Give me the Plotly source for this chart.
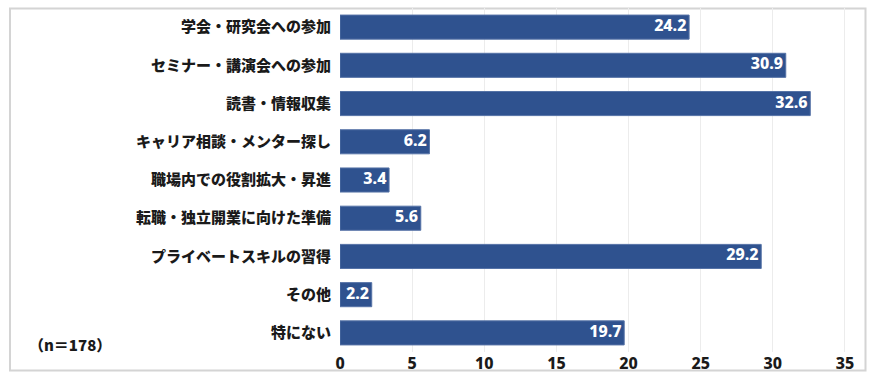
import plotly.graph_objects as go

categories = ["学会・研究会への参加", "セミナー・講演会への参加", "読書・情報収集",
              "キャリア相談・メンター探し", "職場内での役割拡大・昇進",
              "転職・独立開業に向けた準備", "プライベートスキルの習得", "その他", "特にない"]
values = [24.2, 30.9, 32.6, 6.2, 3.4, 5.6, 29.2, 2.2, 19.7]
tick_vals = [0, 5, 10, 15, 20, 25, 30, 35]
note = "（n＝178）"

W, H = 872, 373
ml, mr, mt, mb = 340, 17, 8, 21
pw, ph = W - ml - mr, H - mt - mb

def px_x(px):
    return (px - ml) / pw

def px_y(py):
    return (H - mb - py) / ph

fig = go.Figure()
fig.add_trace(go.Bar(
    y=categories, x=values, orientation="h",
    marker=dict(color="#2F528F", line=dict(width=1, color="#5572a6")),
    width=0.63, hoverinfo="skip",
))
fig.add_trace(go.Scatter(
    y=categories, x=values, mode="text",
    text=[f"{v:.1f}\u2009" for v in values], textposition="middle left",
    textfont=dict(color="white", size=16, family="Noto Sans", weight=800),
    cliponaxis=False, hoverinfo="skip",
))

fig.update_layout(
    width=W, height=H, margin=dict(l=ml, r=mr, t=mt, b=mb, autoexpand=False),
    paper_bgcolor="white", plot_bgcolor="white", showlegend=False,
    font=dict(family="Noto Sans CJK JP", color="#1a1a1a"),
)
fig.update_yaxes(autorange="reversed", showgrid=False, ticks="", automargin=False,
                 tickfont=dict(size=15, family="Noto Sans CJK JP", weight=900, color="#1a1a1a"),
                 ticklabelstandoff=8, showline=False)
fig.update_xaxes(range=[0, 35.7], tickvals=tick_vals, showgrid=True, gridcolor="#ececec",
                 gridwidth=1, zeroline=False, ticks="", automargin=False,
                 tickfont=dict(size=16, family="Noto Sans", weight=800, color="#1a1a1a"),
                 ticklabelstandoff=0)

fig.add_shape(type="rect", xref="paper", yref="paper",
              x0=px_x(10), x1=px_x(865.5), y0=px_y(370.5), y1=px_y(8.5),
              line=dict(color="#d4d4d4", width=2), layer="below")

fig.add_annotation(text=note, xref="paper", yref="paper", x=px_x(70), y=px_y(344),
                   showarrow=False, xanchor="center", yanchor="middle",
                   font=dict(size=15, family="Noto Sans CJK JP", weight=900, color="#1a1a1a"))

fig.write_html("out.html", config={"displayModeBar": False},
               post_script="document.body.style.margin='0';document.body.style.overflow='hidden';")
